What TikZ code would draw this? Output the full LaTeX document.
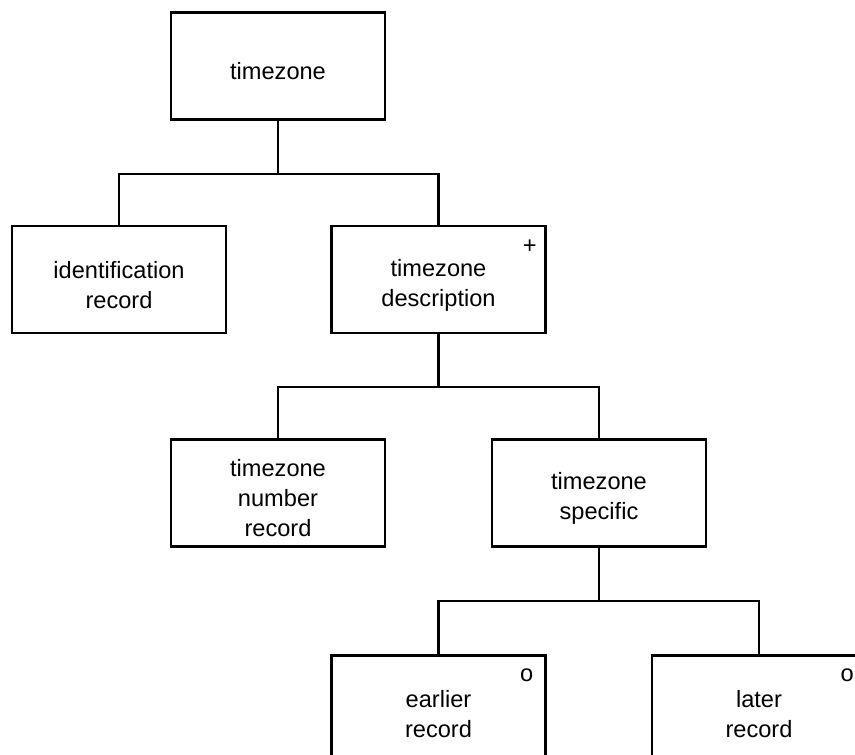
\documentclass[tikz,border=0pt]{standalone}
\usepackage{fontspec}
\setmainfont{Liberation Sans}
\tikzset{
	jbox/.style={draw, line width=2.4pt, minimum width=214pt, minimum height=107pt,
		inner sep=0pt},
	jtext/.style={inner sep=0pt, yshift=-5.5pt, align=center,
		font=\fontsize{23.6}{30}\selectfont},
	jmark/.style={inner sep=0pt, font=\fontsize{23.6}{28}\selectfont},
	jline/.style={line width=2.4pt}
}
\begin{document}
\begin{tikzpicture}[x=1pt, y=-1pt]
	\useasboundingbox (0,0) rectangle (855,755);
	%boxes
	\node[jbox, label={[jtext]center:timezone}] (root) at (278,66) {};
	\node[jbox, label={[jtext]center:{identification\\record}}] (idrec) at (119,279.5) {};
	\node[jbox, label={[jtext]center:{timezone\\description}}] (desc) at (438.5,279.5) {};
	\node[jbox, label={[jtext]center:{timezone\\number\\record}}] (numrec) at (278,493) {};
	\node[jbox, label={[jtext]center:{timezone\\specific}}] (spec) at (599,493) {};
	\node[jbox, label={[jtext]center:{earlier\\record}}] (earlier) at (438.5,709) {};
	\node[jbox, label={[jtext]center:{later\\record}}] (later) at (759,709) {};
	%marks
	\node[jmark] (descmark) at ([shift={(-17,22)}]desc.north east) {+};
	\node[jmark] (earliermark) at ([shift={(-20,21)}]earlier.north east) {o};
	\node[jmark] (latermark) at ([shift={(-20,21)}]later.north east) {o};
	%lines
	\foreach \p/\c in {root/idrec, root/desc, desc/numrec, desc/spec, spec/earlier, spec/later}
	\draw[jline] (\p.south) -- ++(0,53) -| (\c.north);
\end{tikzpicture}
\end{document}
